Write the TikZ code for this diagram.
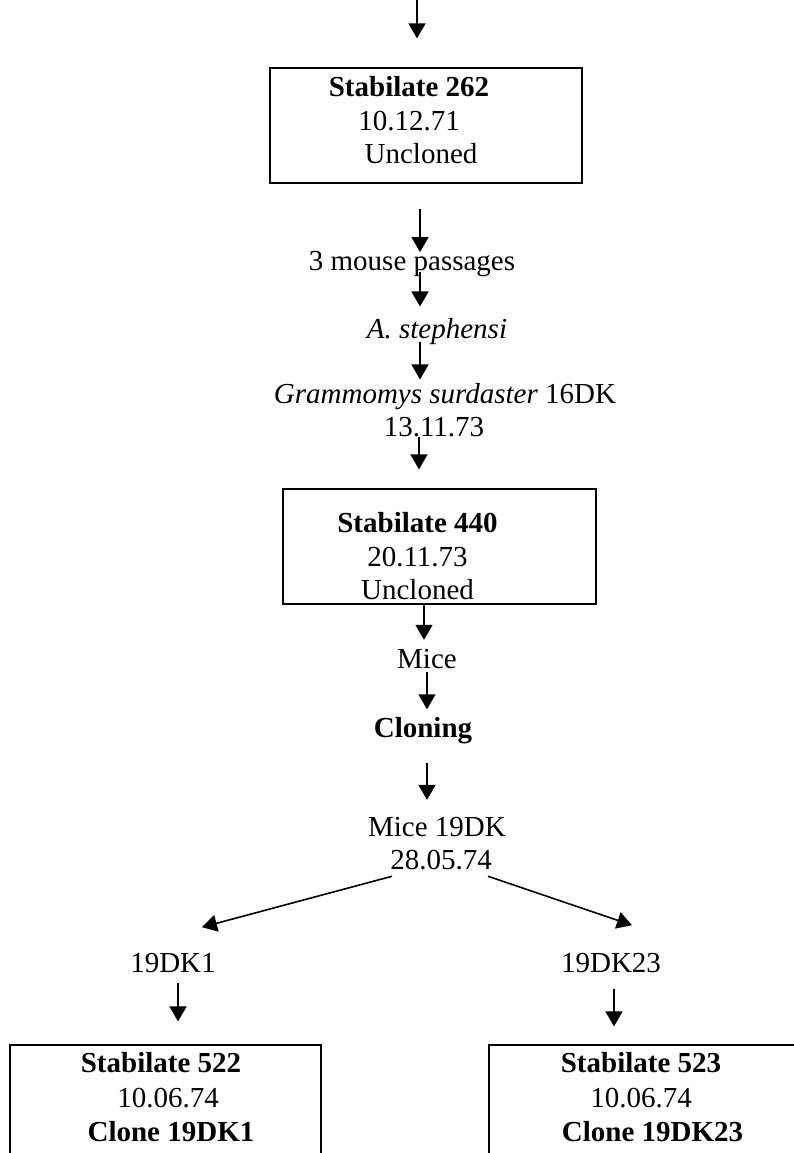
\documentclass[tikz,border=0pt]{standalone}
\usepackage{fontspec}
\setmainfont{Liberation Serif}
\usepackage{tikz}
\usetikzlibrary{arrows.meta}

\begin{document}
\begin{tikzpicture}[
  x=1pt, y=-1pt,
  every node/.style={font=\fontsize{29}{33.3}\selectfont},
  stab/.style={draw, line width=1.2pt, rectangle, inner sep=0pt},
  lbl/.style ={inner sep=0pt, align=center},
  arr/.style ={-{Triangle[width=17pt,length=15pt]}, line width=1.6pt}
]
\path[use as bounding box, fill=white] (0,0) rectangle (793,1153);

%% -- Stabilate 262 ---------------------------------------------------
\coordinate (src) at (417,0);
\node[stab, minimum width=312, minimum height=115] (s262) at (426,125.5) {};
\node[lbl] (s262t) at (409,120.3)
    {\textbf{Stabilate 262}\\10.12.71\\\hspace*{24pt}Uncloned};

\draw[arr] (src) -- ([yshift=29pt]s262.north -| src);

%% -- passages ---------------------------------------------------------
\node[lbl, anchor=base] (mp) at (412,270) {3 mouse passages};
\node[lbl, anchor=base] (as) at (437,338) {\textit{A. stephensi}};
\node[lbl] (gs) at (445,409.8)
    {\textit{Grammomys surdaster} 16DK\\13.11.73\hspace*{22pt}};

\draw[arr] ([xshift=-6pt,yshift=-25pt]s262.south) -- ([xshift=8pt,yshift=-1.5pt]mp.north);
\draw[arr] ([xshift=8pt,yshift=4.3pt]mp.south) -- ([xshift=-17pt,yshift=11.2pt]as.north);
\draw[arr] ([xshift=-17pt,yshift=2.3pt]as.south) -- ([xshift=-25pt,yshift=3.2pt]gs.north);

%% -- Stabilate 440 ---------------------------------------------------
\node[stab, minimum width=313, minimum height=115] (s440) at (439.5,546.5) {};
\node[lbl] (s440t) at (417.5,556.3)
    {\textbf{Stabilate 440}\\20.11.73\\Uncloned};

\draw[arr] ([xshift=-26pt]gs.south) -- ([xshift=-20.5pt,yshift=19pt]s440.north);

%% -- cloning ----------------------------------------------------------
\node[lbl, anchor=base] (mice) at (427,668) {Mice};
\node[lbl, anchor=base] (clon) at (423,737) {\textbf{Cloning}};
\node[lbl] (m19) at (437,843.9) {Mice 19DK\\\hspace*{8pt}28.05.74};

\draw[arr] ([xshift=-15.5pt]s440.south) -- ([xshift=-3pt,yshift=8.8pt]mice.north);
\draw[arr] ([yshift=-4pt]mice.south) -- ([xshift=4pt,yshift=7.4pt]clon.north);
\draw[arr] ([xshift=4pt,yshift=-19pt]clon.south) -- ([xshift=-10pt,yshift=17.4pt]m19.north);

%% -- clones -----------------------------------------------------------
\node[lbl, anchor=base] (k1)  at (173,972) {19DK1};
\node[lbl, anchor=base] (k23) at (611,972) {19DK23};

\draw[arr] ([xshift=-45pt,yshift=-5.7pt]m19.south) -- ([xshift=29pt,yshift=25.4pt]k1.north);
\draw[arr] ([xshift=51pt,yshift=-5.7pt]m19.south) -- ([xshift=21pt,yshift=27.4pt]k23.north);

\node[stab, minimum width=311, minimum height=130] (s522) at (165.5,1110) {};
\node[lbl, font=\fontsize{29}{34.5}\selectfont] (s522t) at (161,1097.5)
    {\textbf{Stabilate 522}\\\hspace*{14pt}10.06.74\\\hspace*{20pt}\textbf{Clone 19DK1}};

\node[stab, minimum width=322, minimum height=130] (s523) at (650,1110) {};
\node[lbl, font=\fontsize{29}{34.5}\selectfont] (s523t) at (641,1097.5)
    {\textbf{Stabilate 523}\\10.06.74\hspace*{28pt}\\\hspace*{23pt}\textbf{Clone 19DK23}};

\draw[arr] ([xshift=5pt,yshift=-11pt]k1.south) -- ([xshift=12.5pt,yshift=23pt]s522.north);
\draw[arr] ([xshift=3pt,yshift=-17pt]k23.south) -- ([xshift=-36pt,yshift=18pt]s523.north);

\end{tikzpicture}
\end{document}
